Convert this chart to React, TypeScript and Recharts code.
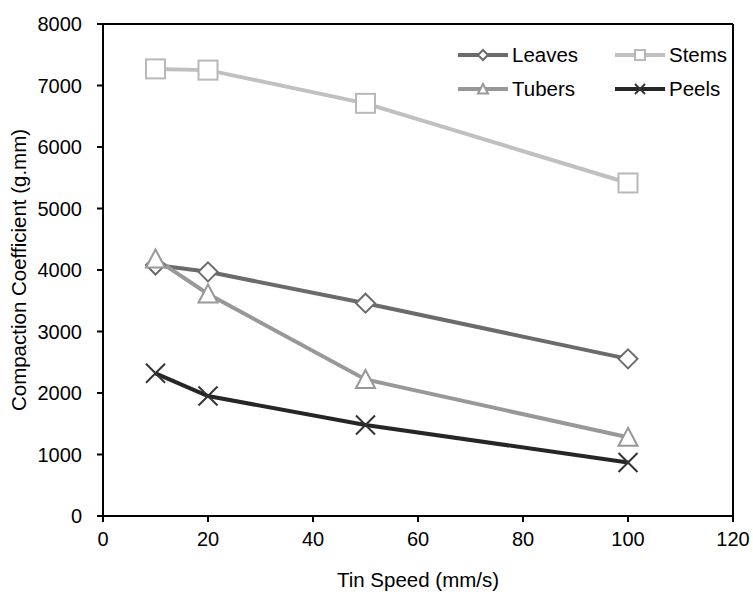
import React from 'react';
import { LineChart, Line, XAxis, YAxis, Legend, ReferenceLine } from 'recharts';

const speeds = [10, 20, 50, 100];
const leaves = [4080, 3970, 3460, 2555];
const stems = [7270, 7250, 6710, 5415];
const tubers = [4180, 3610, 2220, 1280];
const peels = [2320, 1950, 1480, 870];

const xTicks = [0, 20, 40, 60, 80, 100, 120];
const yTicks = [0, 1000, 2000, 3000, 4000, 5000, 6000, 7000, 8000];

const data = speeds.map((speed, i) => ({
  speed,
  Leaves: leaves[i],
  Stems: stems[i],
  Tubers: tubers[i],
  Peels: peels[i],
}));

type Shape = 'diamond' | 'square' | 'triangle' | 'x';

const SERIES: { key: string; color: string; marker: string; shape: Shape }[] = [
  { key: 'Leaves', color: '#6b6b6b', marker: '#6b6b6b', shape: 'diamond' },
  { key: 'Stems', color: '#c0c0c0', marker: '#b8b8b8', shape: 'square' },
  { key: 'Tubers', color: '#989898', marker: '#989898', shape: 'triangle' },
  { key: 'Peels', color: '#262626', marker: '#333333', shape: 'x' },
];

const Marker = ({ shape, cx, cy, r, color }: { shape: Shape; cx: number; cy: number; r: number; color: string }) => {
  if (shape === 'diamond') {
    return (
      <polygon
        points={`${cx},${cy - r} ${cx + r},${cy} ${cx},${cy + r} ${cx - r},${cy}`}
        fill="#fff" stroke={color} strokeWidth={2}
      />
    );
  }
  if (shape === 'square') {
    return <rect x={cx - r} y={cy - r} width={2 * r} height={2 * r} fill="#fff" stroke={color} strokeWidth={2} />;
  }
  if (shape === 'triangle') {
    return (
      <polygon
        points={`${cx},${cy - r} ${cx + r},${cy + r * 0.9} ${cx - r},${cy + r * 0.9}`}
        fill="#fff" stroke={color} strokeWidth={2}
      />
    );
  }
  return (
    <g stroke={color} strokeWidth={2}>
      <line x1={cx - r} y1={cy - r} x2={cx + r} y2={cy + r} />
      <line x1={cx - r} y1={cy + r} x2={cx + r} y2={cy - r} />
    </g>
  );
};

const renderLegend = () => (
  <div style={{ display: 'grid', gridTemplateColumns: '157px 120px', rowGap: 12, fontSize: 20.5, color: '#000' }}>
    {SERIES.map((s) => (
      <div key={s.key} style={{ display: 'flex', alignItems: 'center', height: 22 }}>
        <svg width={50} height={20}>
          <line x1={0} y1={10} x2={50} y2={10} stroke={s.color} strokeWidth={4} />
          <Marker shape={s.shape} cx={25} cy={10} r={5} color={s.marker} />
        </svg>
        <span style={{ marginLeft: 4 }}>{s.key}</span>
      </div>
    ))}
  </div>
);

export default function App() {
  return (
    <div style={{ fontFamily: '"Liberation Sans", Arial, sans-serif' }}>
      <style>{'body{margin:0}'}</style>
      <LineChart width={753} height={592} data={data} margin={{ top: 24, right: 20, left: 0, bottom: 0 }}>
        <XAxis
          type="number"
          dataKey="speed"
          domain={[0, 120]}
          ticks={xTicks}
          height={76}
          tickSize={6}
          tickMargin={10}
          axisLine={{ stroke: '#000', strokeWidth: 2 }}
          tickLine={{ stroke: '#000', strokeWidth: 2 }}
          tick={{ fill: '#000', fontSize: 20 }}
          label={{ value: 'Tin Speed (mm/s)', position: 'insideBottom', offset: 5, fill: '#000', fontSize: 20.5 }}
        />
        <YAxis
          type="number"
          domain={[0, 8000]}
          ticks={yTicks}
          width={103}
          tickSize={6}
          tickMargin={15}
          axisLine={{ stroke: '#000', strokeWidth: 2 }}
          tickLine={{ stroke: '#000', strokeWidth: 2 }}
          tick={{ fill: '#000', fontSize: 20 }}
          label={{
            value: 'Compaction Coefficient (g.mm)',
            angle: -90,
            position: 'insideLeft',
            offset: 19,
            fill: '#000',
            fontSize: 20.5,
            style: { textAnchor: 'middle' },
          }}
        />
        <ReferenceLine y={8000} stroke="#000" strokeWidth={2} />
        <ReferenceLine x={120} stroke="#000" strokeWidth={2} />
        {SERIES.map((s) => (
          <Line
            key={s.key}
            dataKey={s.key}
            stroke={s.color}
            strokeWidth={4}
            isAnimationActive={false}
            dot={(p: any) => (
              <Marker key={`${s.key}-${p.index}`} shape={s.shape} cx={p.cx} cy={p.cy} r={9.5} color={s.marker} />
            )}
            activeDot={false}
          />
        ))}
        <Legend
          layout="horizontal"
          verticalAlign="middle"
          align="center"
          content={renderLegend}
          wrapperStyle={{ top: 44, left: 458, width: 280 }}
        />
      </LineChart>
    </div>
  );
}
